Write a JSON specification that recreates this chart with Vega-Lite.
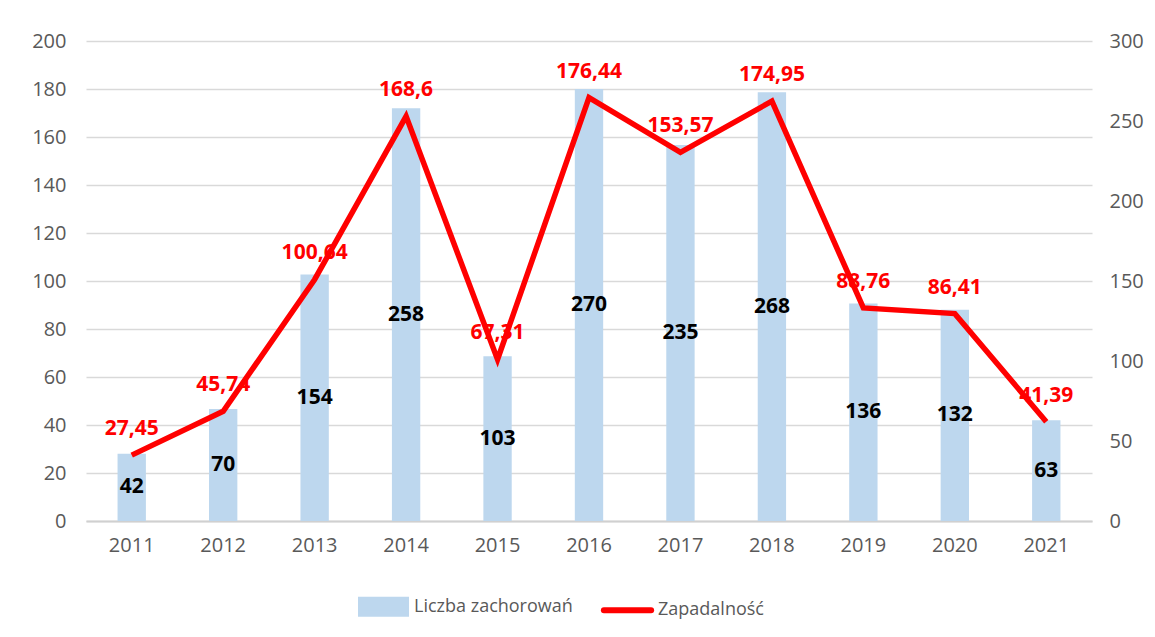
{
  "$schema": "https://vega.github.io/schema/vega-lite/v6.json",
  "width": 1006,
  "height": 480,
  "autosize": {"type": "none"},
  "padding": {"left": 86, "top": 41, "right": 63, "bottom": 116},
  "background": "white",
  "data": {
    "values": [
      {"rok": "2011", "liczba": 42, "zapadalnosc": 27.45},
      {"rok": "2012", "liczba": 70, "zapadalnosc": 45.74},
      {"rok": "2013", "liczba": 154, "zapadalnosc": 100.64},
      {"rok": "2014", "liczba": 258, "zapadalnosc": 168.6},
      {"rok": "2015", "liczba": 103, "zapadalnosc": 67.31},
      {"rok": "2016", "liczba": 270, "zapadalnosc": 176.44},
      {"rok": "2017", "liczba": 235, "zapadalnosc": 153.57},
      {"rok": "2018", "liczba": 268, "zapadalnosc": 174.95},
      {"rok": "2019", "liczba": 136, "zapadalnosc": 88.76},
      {"rok": "2020", "liczba": 132, "zapadalnosc": 86.41},
      {"rok": "2021", "liczba": 63, "zapadalnosc": 41.39}
    ]
  },
  "encoding": {
    "x": {
      "field": "rok",
      "type": "ordinal",
      "scale": {"paddingInner": 0.69, "paddingOuter": 0.345},
      "axis": {
        "title": null,
        "labelAngle": 0,
        "labelFontSize": 20,
        "labelColor": "#595959",
        "labelPadding": 14,
        "ticks": false,
        "domainColor": "#D0D0D0",
        "domainWidth": 2
      }
    }
  },
  "layer": [
    {
      "encoding": {
        "y": {
          "type": "quantitative",
          "scale": {"domain": [0, 300], "nice": false, "zero": true},
          "axis": {
            "orient": "right",
            "title": null,
            "values": [0, 50, 100, 150, 200, 250, 300],
            "grid": false,
            "domain": false,
            "ticks": false,
            "labelPadding": 17,
            "labelFontSize": 20,
            "labelColor": "#595959"
          }
        }
      },
      "layer": [
        {
          "mark": {"type": "bar"},
          "encoding": {
            "y": {"field": "liczba", "type": "quantitative"},
            "color": {
              "datum": "Liczba zachorowań",
              "type": "nominal",
              "scale": {"domain": ["Liczba zachorowań", "Zapadalność"], "range": ["#BDD7EE", "#FF0000"]},
              "legend": {
                "title": null,
                "orient": "none",
                "direction": "horizontal",
                "legendX": 272,
                "legendY": 540,
                "symbolSize": 2025,
                "symbolType": "M-1,-0.31H1V0.31H-1Z",
                "labelFontSize": 18,
                "labelColor": "#595959",
                "labelLimit": 0,
                "labelOffset": 5,
                "columnPadding": 18,
                "encode": {
                  "symbols": {
                    "update": {
                      "shape": {"signal": "datum.value === 'Zapadalność' ? 'M-1.05,0H1.05' : 'M-1,-0.31H1V0.31H-1Z'"},
                      "fill": {"signal": "datum.value === 'Zapadalność' ? 'transparent' : '#BDD7EE'"},
                      "stroke": {"signal": "datum.value === 'Zapadalność' ? '#FF0000' : 'transparent'"},
                      "strokeWidth": {"value": 6},
                      "strokeCap": {"value": "round"},
                      "opacity": {"value": 1}
                    }
                  }
                }
              }
            }
          }
        },
        {
          "transform": [{"calculate": "datum.liczba / 2", "as": "srodek"}],
          "mark": {"type": "text", "fontSize": 21, "fontWeight": "bold", "color": "#000000", "baseline": "middle"},
          "encoding": {
            "y": {"field": "srodek", "type": "quantitative"},
            "text": {"field": "liczba", "type": "quantitative"}
          }
        }
      ]
    },
    {
      "encoding": {
        "y": {
          "type": "quantitative",
          "scale": {"domain": [0, 200], "nice": false, "zero": true},
          "axis": {
            "orient": "left",
            "title": null,
            "values": [0, 20, 40, 60, 80, 100, 120, 140, 160, 180, 200],
            "grid": true,
            "gridColor": "#D9D9D9",
            "gridWidth": 1.5,
            "domain": false,
            "ticks": false,
            "labelPadding": 20,
            "labelFontSize": 20,
            "labelColor": "#595959"
          }
        }
      },
      "layer": [
        {
          "mark": {"type": "line", "strokeWidth": 5.5, "strokeJoin": "miter"},
          "encoding": {
            "y": {"field": "zapadalnosc", "type": "quantitative"},
            "color": {"datum": "Zapadalność", "type": "nominal"}
          }
        },
        {
          "mark": {"type": "text", "fontSize": 21, "fontWeight": "bold", "color": "#FF0000", "baseline": "middle", "dy": -26},
          "encoding": {
            "y": {"field": "zapadalnosc", "type": "quantitative"},
            "text": {"field": "zapadalnosc", "type": "quantitative", "format": ".2~f"}
          }
        }
      ]
    }
  ],
  "resolve": {"scale": {"y": "independent"}},
  "config": {
    "font": "Open Sans",
    "view": {"stroke": null},
    "locale": {
      "number": {"decimal": ",", "thousands": "\u00a0", "grouping": [3], "currency": ["", " zł"]}
    }
  }
}
